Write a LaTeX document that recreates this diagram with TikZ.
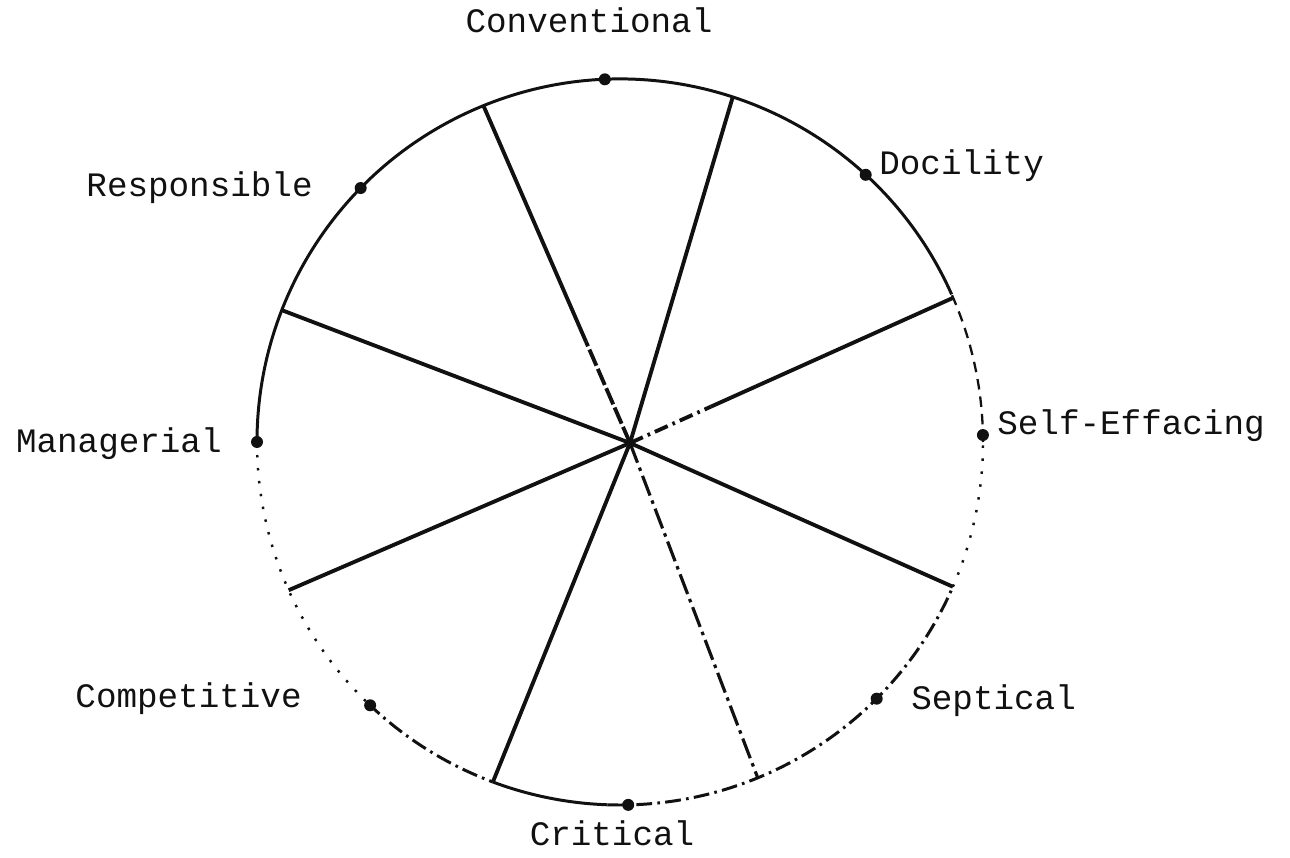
\documentclass[tikz,border=0pt]{standalone}
\usepackage{fontspec}
\setmonofont{Liberation Mono}
\usepackage{tikz}
\usetikzlibrary{calc}
\usepackage{xcolor}
\definecolor{ink}{HTML}{111111}
\tikzset{
  rim/.style={draw=ink,line width=1.7pt},
  rimdots/.style={rim,line width=1.4pt,dash pattern=on 1.4pt off 6pt},
  rimdashdot/.style={rim,dash pattern=on 9pt off 3pt on 1.5pt off 3pt},
  rimdashed/.style={rim,line width=1.3pt,dash pattern=on 6pt off 4pt},
  spoke/.style={draw=ink,line width=2.2pt},
  marker/.style={circle,fill=ink,inner sep=0pt,minimum size=0.24cm},
  labelstyle/.style={font=\fontsize{19.5}{22}\selectfont\ttfamily,text=ink,inner sep=0pt}
}

\begin{document}
\begin{tikzpicture}
  \useasboundingbox (0,0) rectangle (25.8,17.14);
  \coordinate (c) at (12.4,8.30);  % centre of the rim
  \coordinate (o) at (12.6,8.28);  % where the spokes meet

  % rim, in pieces
  \draw[rim] ($(c)+(24:7.26)$) arc[start angle=24,end angle=180,radius=7.26];
  \draw[rimdots] ($(c)+(180:7.26)$) arc[start angle=180,end angle=226,radius=7.26];
  \draw[rimdashdot] ($(c)+(226:7.26)$) arc[start angle=226,end angle=249.5,radius=7.26];
  \draw[rim] ($(c)+(249.5:7.26)$) arc[start angle=249.5,end angle=268,radius=7.26];
  \draw[rimdashdot] ($(c)+(268:7.26)$) arc[start angle=268,end angle=336.5,radius=7.26];
  \draw[rimdots] ($(c)+(336.5:7.26)$) arc[start angle=336.5,end angle=360,radius=7.26];
  \draw[rimdashed] ($(c)+(0:7.26)$) arc[start angle=0,end angle=24,radius=7.26];

  % spoke ends
  \foreach \a/\n in {112.1/s1,71.9/s2,23.4/s3,-23.5/s4,-67.7/s5,249.5/s6,204.1/s7,158.7/s8}
    \coordinate (\n) at ($(c)+(\a:7.26)$);
  \coordinate (s1m) at ($(o)!0.3!(s1)$);
  \coordinate (s3m) at ($(o)!0.25!(s3)$);

  \draw[spoke,dash pattern=on 10pt off 2pt] (o) -- (s1m);
  \draw[spoke] (s1m) -- (s1);
  \draw[spoke] (o) -- (s2);
  \draw[spoke,dash pattern=on 8pt off 3pt on 1.5pt off 3pt] (o) -- (s3m);
  \draw[spoke] (s3m) -- (s3);
  \draw[spoke] (o) -- (s4);
  \draw[spoke,line width=1.8pt,dash pattern=on 12pt off 3pt on 2pt off 3pt] (o) -- (s5);
  \draw[spoke] (o) -- (s6);
  \draw[spoke] (o) -- (s7);
  \draw[spoke] (o) -- (s8);

  % points on the rim
  \node[marker] (conv) at ($(c)+(92.4:7.26)$) {};
  \node[marker] (doc) at ($(c)+(47.4:7.26)$) {};
  \node[marker] (self) at ($(c)+(1.1:7.26)$) {};
  \node[marker] (sept) at ($(c)+(-45:7.26)$) {};
  \node[marker] (crit) at ($(c)+(-88.7:7.26)$) {};
  \node[marker] (comp) at ($(c)+(226.5:7.26)$) {};
  \node[marker] (man) at ($(c)+(180:7.26)$) {};
  \node[marker] (resp) at ($(c)+(135.6:7.26)$) {};

  % labels
  \node[labelstyle,anchor=base] (convlbl) at (11.78,16.48) {Conventional};
  \node[labelstyle,anchor=base west] (doclbl) at (17.58,13.64) {Docility};
  \node[labelstyle,anchor=base west] (selflbl) at (19.94,8.44) {Self-Effacing};
  \node[labelstyle,anchor=base west] (septlbl) at (18.22,2.94) {Septical};
  \node[labelstyle,anchor=base] (critlbl) at (12.24,0.24) {Critical};
  \node[labelstyle,anchor=base east] (complbl) at (6.04,3.00) {Competitive};
  \node[labelstyle,anchor=base east] (manlbl) at (4.44,8.08) {Managerial};
  \node[labelstyle,anchor=base east] (resplbl) at (6.26,13.20) {Responsible};
\end{tikzpicture}
\end{document}
